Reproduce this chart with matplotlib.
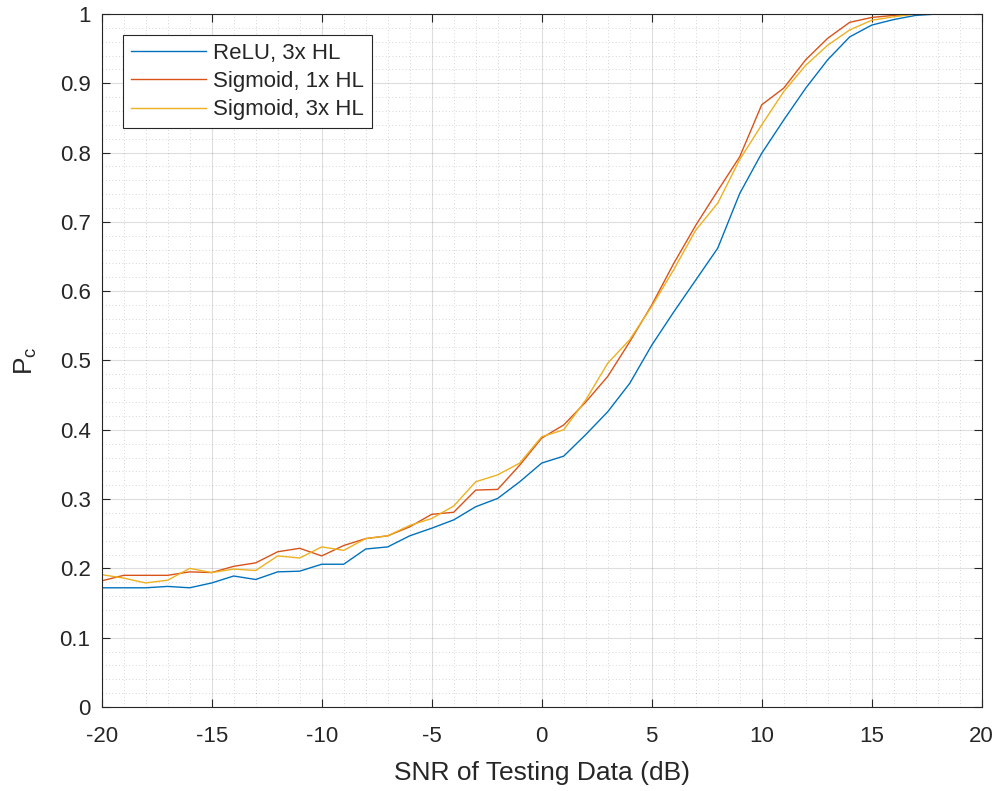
import matplotlib
matplotlib.use("Agg")
import matplotlib.pyplot as plt
import numpy as np
from matplotlib.ticker import MultipleLocator, FuncFormatter

plt.rcParams['font.family'] = ['Liberation Sans', 'DejaVu Sans']
plt.rcParams['mathtext.fontset'] = 'custom'
plt.rcParams['mathtext.rm'] = 'Liberation Sans'
plt.rcParams['mathtext.it'] = 'Liberation Sans'
plt.rcParams['axes.unicode_minus'] = False

snr = list(range(-20, 21))
relu_3hl = [0.172, 0.172, 0.172, 0.174, 0.172, 0.179, 0.189, 0.184, 0.195, 0.196,
            0.206, 0.206, 0.228, 0.231, 0.247, 0.258, 0.270, 0.289, 0.301, 0.325,
            0.352, 0.362, 0.393, 0.426, 0.467, 0.522, 0.570, 0.616, 0.662, 0.741,
            0.799, 0.847, 0.893, 0.934, 0.967, 0.984, 0.992, 0.998, 1.0, 1.0, 1.0]
sig_1hl = [0.182, 0.190, 0.190, 0.190, 0.195, 0.194, 0.203, 0.208, 0.224, 0.229,
           0.218, 0.233, 0.243, 0.247, 0.260, 0.278, 0.281, 0.313, 0.314, 0.349,
           0.388, 0.407, 0.440, 0.477, 0.527, 0.580, 0.640, 0.695, 0.745, 0.794,
           0.869, 0.893, 0.934, 0.965, 0.988, 0.995, 0.998, 1.0, 1.0, 1.0, 1.0]
sig_3hl = [0.191, 0.186, 0.179, 0.183, 0.200, 0.194, 0.199, 0.197, 0.218, 0.215,
           0.231, 0.226, 0.243, 0.247, 0.262, 0.272, 0.290, 0.325, 0.335, 0.352,
           0.390, 0.400, 0.443, 0.496, 0.530, 0.578, 0.631, 0.688, 0.727, 0.790,
           0.840, 0.888, 0.926, 0.955, 0.977, 0.991, 0.996, 1.0, 1.0, 1.0, 1.0]
labels = ['ReLU, 3x HL', 'Sigmoid, 1x HL', 'Sigmoid, 3x HL']
colors = [(0, 0.447, 0.741), (0.85, 0.325, 0.098), (0.929, 0.694, 0.125)]

fig = plt.figure(figsize=(9.99, 7.91), dpi=100)
ax = fig.add_axes([0.1018, 0.1062, 0.8809, 0.8761])

for ys, lab, c in zip([relu_3hl, sig_1hl, sig_3hl], labels, colors):
    ax.plot(snr, ys, color=c, lw=1.0, label=lab)

ax.set_xlim(-20, 20)
ax.set_ylim(0, 1)
ax.xaxis.set_major_locator(MultipleLocator(5))
ax.xaxis.set_minor_locator(MultipleLocator(1))
ax.yaxis.set_major_locator(MultipleLocator(0.1))
ax.yaxis.set_minor_locator(MultipleLocator(0.02))
ax.yaxis.set_major_formatter(FuncFormatter(lambda v, p: ('%.1f' % v).rstrip('0').rstrip('.') if abs(v) > 1e-9 else '0'))

axc = (0.15, 0.15, 0.15)
ax.grid(True, which='major', color=axc, alpha=0.15, lw=0.8)
ax.grid(True, which='minor', color=axc, alpha=0.25, lw=0.6, linestyle=(0, (1, 3)))
ax.tick_params(which='both', direction='in', top=True, right=True, colors=axc, labelcolor=axc, labelsize=16)
ax.tick_params(which='major', length=6, width=0.8)
ax.tick_params(axis='x', which='major', pad=14)
ax.tick_params(axis='y', which='major', pad=8)
ax.tick_params(which='minor', length=0)
for s in ax.spines.values():
    s.set_color(axc)
    s.set_linewidth(0.8)

ax.set_xlabel('SNR of Testing Data (dB)', fontsize=19, color=axc, labelpad=10)
ax.set_ylabel(r'P$_{\mathrm{c}}$', fontsize=19, color=axc, labelpad=15)

leg = ax.legend(loc='upper left', bbox_to_anchor=(0.0242, 0.9697), borderaxespad=0,
                fontsize=16, handlelength=3.4, handletextpad=0.3,
                fancybox=False, framealpha=1, edgecolor=axc, borderpad=0.35, labelspacing=0.33)
leg.get_frame().set_linewidth(0.8)
for t in leg.get_texts():
    t.set_color(axc)

fig.savefig('out.png', dpi=100)
